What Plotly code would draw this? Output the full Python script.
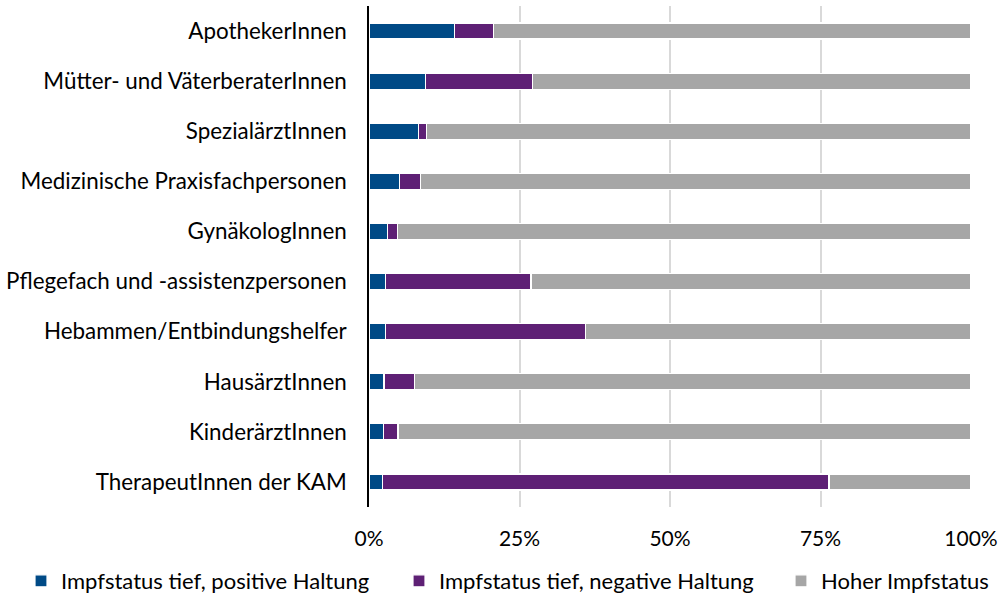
import plotly.graph_objects as go

categories = [
    "ApothekerInnen",
    "Mütter- und VäterberaterInnen",
    "SpezialärztInnen",
    "Medizinische Praxisfachpersonen",
    "GynäkologInnen",
    "Pflegefach und -assistenzpersonen",
    "Hebammen/Entbindungshelfer",
    "HausärztInnen",
    "KinderärztInnen",
    "TherapeutInnen der KAM",
]
positive_low = [14.2, 9.4, 8.2, 5.0, 3.1, 2.7, 2.7, 2.5, 2.4, 2.3]
negative_low = [6.5, 17.7, 1.4, 3.5, 1.6, 24.2, 33.3, 5.1, 2.4, 74.1]
high_status = [round(100 - a - b, 1) for a, b in zip(positive_low, negative_low)]

series_names = ["Impfstatus tief, positive Haltung", "Impfstatus tief, negative Haltung", "Hoher Impfstatus"]
colors = ["#004A86", "#5E2075", "#A6A6A6"]
tick_vals = [0, 25, 50, 75, 100]
tick_text = ["0%", "25%", "50%", "75%", "100%"]

legend_ids = ["legend", "legend2", "legend3"]
legend_x = [0.021, 0.399, 0.781]

fig = go.Figure()
for name, vals, col, lg in zip(series_names, [positive_low, negative_low, high_status], colors, legend_ids):
    fig.add_trace(go.Bar(
        y=categories, x=vals, name=name, orientation="h", legend=lg, showlegend=True,
        marker=dict(color=col, line=dict(color="white", width=1.2)),
    ))

font = "Lato, Open Sans, sans-serif"
legend_common = dict(orientation="h", y=1 - 581 / 594, yanchor="middle", xanchor="left",
                     font=dict(size=22), itemwidth=30, bgcolor="rgba(0,0,0,0)")
fig.update_layout(
    showlegend=True,
    barmode="stack",
    bargap=0.68,
    width=1000, height=594,
    margin=dict(l=0, r=0, t=0, b=0, pad=0, autoexpand=False),
    plot_bgcolor="white", paper_bgcolor="white",
    font=dict(family=font, size=22, color="#000000"),
    xaxis=dict(domain=[369 / 1000, 971 / 1000], range=[0, 100], tickvals=tick_vals, ticktext=tick_text,
               showgrid=True, gridcolor="#D9D9D9", gridwidth=1.5,
               zeroline=False, showline=False, ticks="", ticklabelstandoff=17,
               automargin=False, tickfont=dict(size=21)),
    yaxis=dict(domain=[1 - 507 / 594, 1 - 6 / 594], autorange="reversed", showline=True,
               linecolor="#000000", linewidth=1.5,
               ticks="", ticklabelstandoff=16, automargin=False, tickfont=dict(size=22.4)),
    legend=dict(x=legend_x[0], **legend_common),
    legend2=dict(x=legend_x[1], **legend_common),
    legend3=dict(x=legend_x[2], **legend_common),
)
fig.write_html("out.html", config={"displayModeBar": False},
               post_script="document.body.style.margin='0';document.body.style.padding='0';")
